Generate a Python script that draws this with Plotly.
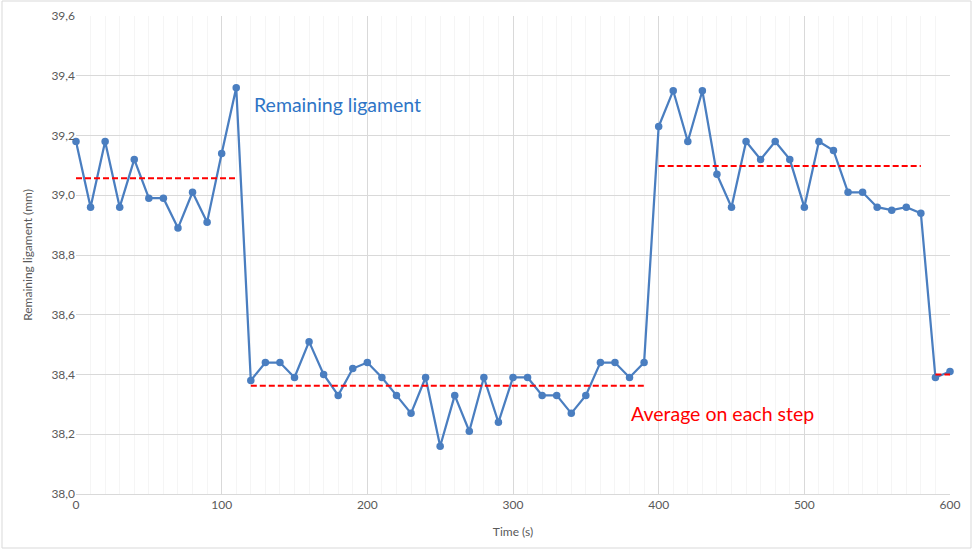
import plotly.graph_objects as go

time_s = list(range(0, 610, 10))
ligament_mm = [
    39.18, 38.96, 39.18, 38.96, 39.12, 38.99, 38.99, 38.89, 39.01, 38.91, 39.14, 39.36,
    38.38, 38.44, 38.44, 38.39, 38.51, 38.40, 38.33, 38.42, 38.44, 38.39, 38.33, 38.27,
    38.39, 38.16, 38.33, 38.21, 38.39, 38.24, 38.39, 38.39, 38.33, 38.33, 38.27, 38.33,
    38.44, 38.44, 38.39, 38.44,
    39.23, 39.35, 39.18, 39.35, 39.07, 38.96, 39.18, 39.12, 39.18, 39.12, 38.96, 39.18,
    39.15, 39.01, 39.01, 38.96, 38.95, 38.96, 38.94,
    38.39, 38.41,
]
step_start = [0, 120, 400, 590]
step_end = [110, 390, 580, 600]
step_avg = [39.057, 38.362, 39.098, 38.40]

fig = go.Figure()
fig.add_trace(go.Scatter(
    x=time_s, y=ligament_mm, mode="lines+markers",
    line=dict(color="#4A7EC0", width=2.25),
    marker=dict(color="#4A7EC0", size=7.5),
    showlegend=False, hoverinfo="x+y", cliponaxis=False,
))
for s, e, a in zip(step_start, step_end, step_avg):
    fig.add_trace(go.Scatter(
        x=[s, e], y=[a, a], mode="lines",
        line=dict(color="#FF0000", width=2, dash="6px,3px"),
        showlegend=False,
    ))

fig.add_annotation(x=121, y=39.305, text="Remaining ligament", showarrow=False,
                   xanchor="left", yanchor="middle",
                   font=dict(family="Lato, Open Sans, sans-serif", size=19.5, color="#2E75C6"))
fig.add_annotation(x=379.6, y=38.271, text="Average on each step", showarrow=False,
                   xanchor="left", yanchor="middle",
                   font=dict(family="Lato, Open Sans, sans-serif", size=19.5, color="#FF0000"))

# outer chart frame
fig.add_shape(type="rect", xref="paper", yref="paper",
              x0=(2 - 76) / 874, x1=(971 - 76) / 874,
              y0=(494 - 548) / 478, y1=(494 - 1) / 478,
              line=dict(color="#D9D9D9", width=1), layer="below")

fig.update_layout(
    width=976, height=555,
    margin=dict(l=76, r=26, t=16, b=61, autoexpand=False),
    paper_bgcolor="white", plot_bgcolor="white",
    separators=",.",
    font=dict(family="Lato, Open Sans, sans-serif", color="#595959", size=12),
    xaxis=dict(
        range=[0, 600], tickmode="linear", tick0=0, dtick=100,
        automargin=False,
        showgrid=True, gridcolor="#D9D9D9", gridwidth=1,
        minor=dict(dtick=10, showgrid=True, gridcolor="#F5F5F5", gridwidth=1),
        zeroline=False, showline=True, linecolor="#D9D9D9",
        ticks="", tickfont=dict(size=12, color="#595959"),
        title=dict(text="Time (s)", font=dict(size=12, color="#595959"), standoff=16),
    ),
    yaxis=dict(
        range=[38.0, 39.6], tickmode="linear", tick0=38.0, dtick=0.2,
        tickformat=".1f", automargin=False,
        showgrid=True, gridcolor="#D9D9D9", gridwidth=1,
        zeroline=False, showline=False,
        ticks="", tickfont=dict(size=12, color="#595959"),
        title=dict(text="Remaining ligament (mm)", font=dict(size=12, color="#595959"), standoff=16),
    ),
)

fig.write_html("out.html", config={"displayModeBar": False},
               post_script="document.body.style.margin='0';document.body.style.overflow='hidden';")
